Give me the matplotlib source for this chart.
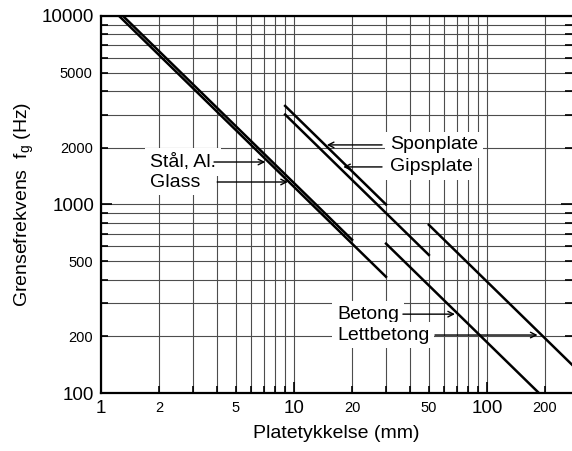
import numpy as np
import matplotlib
matplotlib.use("Agg")
import matplotlib.pyplot as plt

plt.rcParams['font.family'] = ['Liberation Sans', 'DejaVu Sans']

# Coincidence frequency lines: f_g * t = constant (Hz*mm), thickness ranges in mm
materials = ["Stål, Al.", "Glass", "Sponplate", "Gipsplate", "Betong", "Lettbetong"]
products = [12400, 13000, 30000, 27000, 18600, 39000]
t_start = [1.24, 1.3, 9, 9, 30, 50]
t_end = [30, 20, 30, 50, 200, 280]

# label text position (mm, Hz), arrow tail and arrow tip (mm)
label_t = [1.79, 1.79, 31.4, 31.4, 16.7, 16.7]
label_f = [1680, 1316, 2070, 1582, 262, 203]
arrow_from = [3.85, 4.0, 28.6, 28.6, 36.7, 53.8]
arrow_to = [7.1, 9.3, 14.8, 18.0, 68.3, 183]

x_major = [1, 10, 100]
x_minor_labels = {2: "2", 5: "5", 20: "20", 50: "50", 200: "200"}
y_major = [100, 1000, 10000]
y_minor_labels = {200: "200", 500: "500", 2000: "2000", 5000: "5000"}

fig = plt.figure(figsize=(5.72, 4.51), dpi=100)
ax = fig.add_axes([0.1766, 0.1286, 0.8234, 0.836])
ax.set_xscale("log")
ax.set_yscale("log")
ax.set_xlim(1, 276)
ax.set_ylim(100, 10000)

# grid
ax.grid(True, which="both", color="0.3", lw=0.8)
ax.set_axisbelow(True)

for name, k, a, b in zip(materials, products, t_start, t_end):
    t = np.array([a, b])
    ax.plot(t, k / t, color="black", lw=1.8, zorder=3)

for name, lt, lf, af, at in zip(materials, label_t, label_f, arrow_from, arrow_to):
    ax.text(lt, lf, name, fontsize=14, va="center", ha="left", zorder=4,
            bbox=dict(facecolor="white", edgecolor="none", pad=3.5))
    ax.annotate("", xy=(at, lf), xytext=(af, lf), zorder=4,
                arrowprops=dict(arrowstyle="->", lw=1.0, color="black",
                                shrinkA=0, shrinkB=0))

ax.set_xticks(x_major)
ax.set_xticklabels([str(v) for v in x_major], fontsize=13.5)
xm = [m * d for d in [1, 10, 100] for m in range(2, 10) if m * d < 276]
ax.set_xticks(xm, minor=True)
ax.set_xticklabels([x_minor_labels.get(v, "") for v in xm], minor=True, fontsize=10.5)

ax.set_yticks(y_major)
ax.set_yticklabels([str(v) for v in y_major], fontsize=13.5)
ym = [m * d for d in [100, 1000] for m in range(2, 10)]
ax.set_yticks(ym, minor=True)
ax.set_yticklabels([y_minor_labels.get(v, "") for v in ym], minor=True, fontsize=10.5)

ax.tick_params(which="both", direction="in", left=True, right=True, bottom=True, top=False, width=1.2)
ax.tick_params(which="major", length=8, pad=5)
ax.tick_params(which="minor", length=5, pad=6)

for s in ["left", "bottom", "top"]:
    ax.spines[s].set_linewidth(1.6)
ax.spines["right"].set_visible(False)

ax.set_xlabel("Platetykkelse (mm)", fontsize=14, labelpad=6)
ax.set_ylabel("Grensefrekvens  f$_\\mathregular{g}$ (Hz)", fontsize=14, labelpad=4)

fig.savefig("out.png", dpi=100)
